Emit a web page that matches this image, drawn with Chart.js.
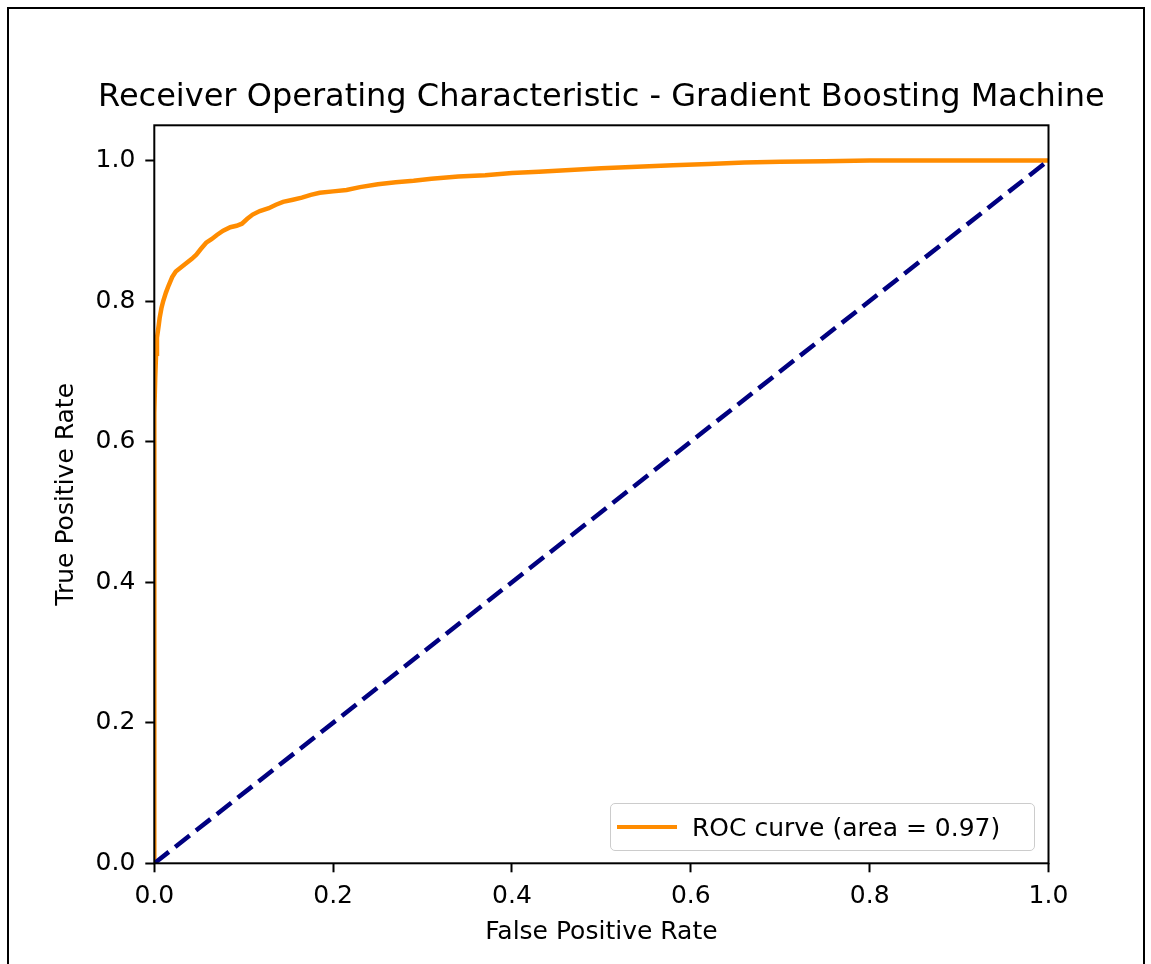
<!DOCTYPE html>
<html>
<head>
<meta charset="utf-8">
<script src="https://cdn.jsdelivr.net/npm/chart.js@4/dist/chart.umd.min.js"></script>
<style>
  html, body { margin:0; padding:0; background:#fff; overflow:hidden; }
  #frame { position:absolute; left:7px; top:7px; width:1134px; height:1000px; border:2px solid #000; }
  #c { position:absolute; left:0; top:0; }
  #legend { position:absolute; left:610px; top:803px; width:423px; height:46px;
            border:1px solid #cccccc; border-radius:5px; background:rgba(255,255,255,0.8);
            font-family:'DejaVu Sans', sans-serif; font-size:25px; color:#000; }
  .item { position:absolute; left:0; top:0; height:46px; display:flex; align-items:center; white-space:nowrap; }
  .swatch { display:inline-block; width:60px; height:4.5px; margin-left:6px; margin-right:15px; }
</style>
</head>
<body>
<div id="frame"></div>
<canvas id="c" width="1151" height="964"></canvas>
<div id="legend"></div>
<script>
// ---- data ----
const fprValues = [0.000,0.000,0.000,0.001,0.002,0.003,0.005,0.006,0.008,0.010,0.013,0.016,0.020,0.024,0.030,0.036,0.042,0.047,0.052,0.058,0.064,0.070,0.077,0.085,0.092,0.098,0.104,0.110,0.118,0.128,0.136,0.144,0.155,0.165,0.175,0.185,0.200,0.215,0.230,0.250,0.270,0.290,0.310,0.340,0.370,0.400,0.430,0.460,0.500,0.540,0.580,0.620,0.660,0.700,0.750,0.800,0.850,0.900,1.000];
const tprValues = [0.000,0.300,0.640,0.690,0.725,0.748,0.766,0.776,0.790,0.800,0.812,0.822,0.834,0.842,0.848,0.854,0.860,0.866,0.874,0.883,0.888,0.894,0.900,0.905,0.907,0.910,0.917,0.923,0.928,0.932,0.937,0.941,0.944,0.947,0.951,0.954,0.956,0.958,0.962,0.966,0.969,0.971,0.974,0.977,0.979,0.982,0.984,0.986,0.989,0.991,0.993,0.995,0.997,0.998,0.999,1.000,1.000,1.000,1.000];
const diagX = [0, 1];
const diagY = [0, 1];
const rocLabel = 'ROC curve (area = 0.97)';
const chartTitle = 'Receiver Operating Characteristic - Gradient Boosting Machine';
const xTitle = 'False Positive Rate';
const yTitle = 'True Positive Rate';

const FONT = 'DejaVu Sans';

const rocData = fprValues.map((x, i) => ({ x: x, y: tprValues[i] }));
const diagData = diagX.map((x, i) => ({ x: x, y: diagY[i] }));

const framePlugin = {
  id: 'frame',
  afterDatasetsDraw(chart) {
    const a = chart.chartArea, ctx = chart.ctx;
    ctx.save();
    ctx.strokeStyle = '#000';
    ctx.lineWidth = 2;
    ctx.strokeRect(a.left, a.top, a.right - a.left, a.bottom - a.top);
    ctx.restore();
  }
};

const tickFont = { family: FONT, size: 25 };

const chart = new Chart(document.getElementById('c'), {
  type: 'scatter',
  data: {
    datasets: [
      { label: 'diag', data: diagData, showLine: true, borderColor: '#000080', borderWidth: 4.5,
        borderDash: [18.5, 8], pointRadius: 0, clip: 0, order: 0 },
      { label: rocLabel, data: rocData, showLine: true, borderColor: '#ff8c00', borderWidth: 4.5,
        pointRadius: 0, clip: 0, order: 1, tension: 0 }
    ]
  },
  options: {
    responsive: false,
    devicePixelRatio: 1,
    animation: false,
    layout: { padding: { left: 51.8, right: 0, top: 0, bottom: 0 } },
    plugins: {
      legend: { display: false },
      tooltip: { enabled: false },
      title: {
        display: true, text: chartTitle, color: '#000',
        font: { family: FONT, size: 32, weight: 'normal', lineHeight: 1.2 },
        padding: { top: 78.8, bottom: 8.1 }
      }
    },
    scales: {
      x: {
        type: 'linear', min: 0, max: 1,
        ticks: { stepSize: 0.2, includeBounds: false, font: tickFont, color: '#000', padding: 9,
                 maxRotation: 0, callback: v => v.toFixed(1) },
        grid: { display: true, drawOnChartArea: false, drawTicks: true, tickLength: 9, tickWidth: 2, tickColor: '#000' },
        border: { display: false },
        title: { display: true, text: xTitle, color: '#000', font: tickFont, padding: { top: 0, bottom: 16.5 } },
        afterFit: s => { s.height = 100.7; }
      },
      y: {
        type: 'linear', min: 0, max: 1.05,
        ticks: { stepSize: 0.2, includeBounds: false, font: tickFont, color: '#000', padding: 10,
                 callback: v => v.toFixed(1) },
        grid: { display: true, drawOnChartArea: false, drawTicks: true, tickLength: 9, tickWidth: 2, tickColor: '#000' },
        border: { display: false },
        title: { display: true, text: yTitle, color: '#000', font: tickFont, padding: { top: 0, bottom: 0 } },
        afterFit: s => { s.width = 102.5; }
      },
      yRightSpace: {
        type: 'linear', position: 'right', min: 0, max: 1.05,
        ticks: { display: false },
        grid: { display: false, drawTicks: false },
        border: { display: false },
        title: { display: false },
        afterFit: s => { s.width = 102.5; }
      }
    }
  },
  plugins: [framePlugin]
});

// HTML legend built from the dataset
const leg = document.getElementById('legend');
chart.data.datasets.filter(d => d.label !== 'diag').forEach(d => {
  const item = document.createElement('div');
  item.className = 'item';
  const sw = document.createElement('span');
  sw.className = 'swatch';
  sw.style.background = d.borderColor;
  const tx = document.createElement('span');
  tx.textContent = d.label;
  item.appendChild(sw);
  item.appendChild(tx);
  leg.appendChild(item);
});
</script>
</body>
</html>
